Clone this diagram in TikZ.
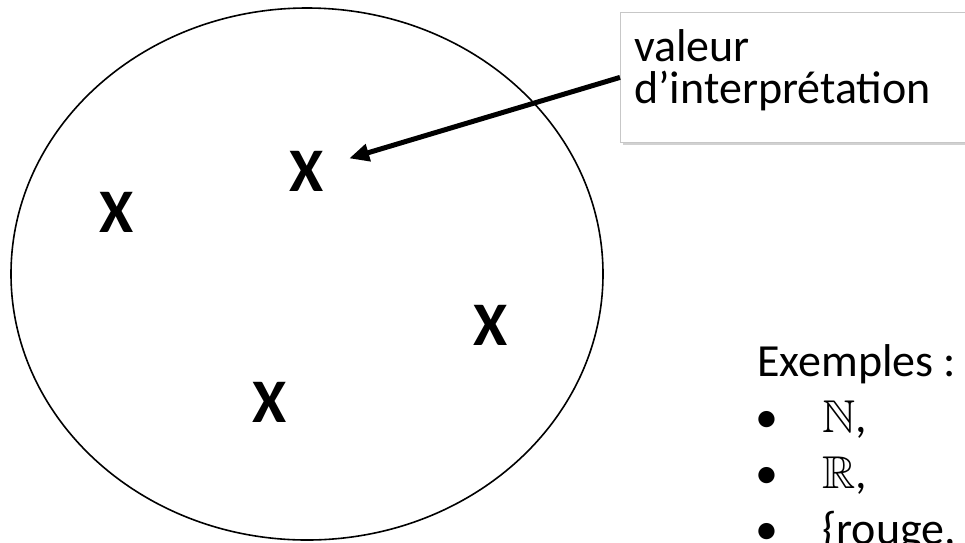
\documentclass[tikz,border=0pt]{standalone}
\usepackage{amssymb}
\usepackage{fontspec}
\setmainfont{Carlito}
\usetikzlibrary{arrows.meta,shadows,shapes.geometric}
\tikzset{
  xmark/.style={inner sep=0pt, font=\fontsize{62}{62}\selectfont\bfseries},
  txt/.style={inner sep=0pt, anchor=base west, font=\fontsize{46}{42}\selectfont},
  callout/.style={draw=black!22, line width=0.8pt, fill=white,
    drop shadow={shadow xshift=3pt, shadow yshift=-3pt, opacity=0.3, fill=black!60}},
  pointer/.style={line width=5pt, -{Triangle[length=20pt,width=17pt]}, shorten >=44pt}
}
\begin{document}
\begin{tikzpicture}[x=1pt,y=-1pt]
\useasboundingbox (0,0) rectangle (965,542);
\clip (0,0) rectangle (965,542);
\node[draw, line width=1.6pt, ellipse, minimum width=592pt, minimum height=532pt, inner sep=0pt] (set) at (307,274) {};
\node[xmark] (x1) at (307,171) {X};
\node[xmark] (x2) at (117,212) {X};
\node[xmark] (x3) at (491,325) {X};
\node[xmark] (x4) at (270,402) {X};
\node[callout, minimum width=370pt, minimum height=130pt, anchor=north west, inner sep=0pt] (box) at (620,12) {};
\node[txt] (t1) at (634,61) {valeur};
\node[txt] (t2) at (634,103) {d’interprétation};
\draw[pointer] (box.west) -- (x1.center);
\node[txt] (ex) at (757,376) {Exemples :};
\node[txt] (b1) at (755,432) {•};
\node[txt] (b2) at (755,488) {•};
\node[txt] (b3) at (755,544) {•};
\node[txt] (i1) at (822,432) {$\mathbb{N}$,};
\node[txt] (i2) at (822,488) {$\mathbb{R}$,};
\node[txt] (i3) at (822,544) {\{rouge, vert, bleu\}};
\end{tikzpicture}
\end{document}
